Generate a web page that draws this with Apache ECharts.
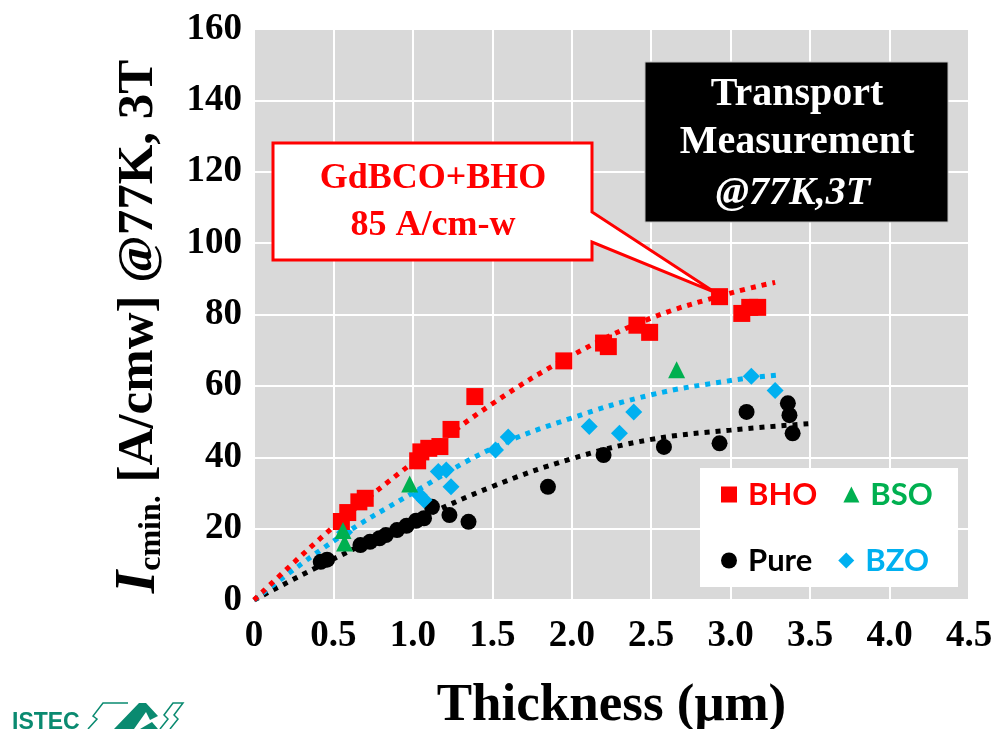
<!DOCTYPE html>
<html>
<head>
<meta charset="utf-8">
<title>Ic vs thickness</title>
<script src="https://cdn.jsdelivr.net/npm/echarts@6/dist/echarts.min.js"></script>
<style>
  html, body { margin: 0; padding: 0; background: #fff; }
  #chart { width: 996px; height: 729px; }
</style>
</head>
<body>
<div id="chart"></div>
<script>
// Measured tapes: [thickness (um), Ic min (A/cm-w)]
const bho = [
  [0.55, 22], [0.59, 24.5], [0.66, 27.5], [0.70, 28.5],
  [1.03, 39], [1.05, 41.5], [1.10, 42.5], [1.17, 43], [1.24, 47.8], [1.39, 57],
  [1.95, 67], [2.20, 72], [2.23, 71], [2.41, 77], [2.49, 75],
  [2.93, 85], [3.07, 80.3], [3.12, 82], [3.17, 82]
];
const bso = [[0.56, 19.5], [0.57, 16], [0.98, 32.5], [2.66, 64.5]];
const pure = [
  [0.42, 10.7], [0.46, 11.3], [0.67, 15.4], [0.73, 16.3], [0.79, 17.3], [0.83, 18.2],
  [0.90, 19.6], [0.96, 20.8], [1.02, 22.2], [1.07, 22.9], [1.12, 26.1], [1.23, 23.8],
  [1.35, 21.9], [1.85, 31.7], [2.20, 40.6], [2.58, 42.9], [2.93, 43.9],
  [3.10, 52.7], [3.36, 55.1], [3.37, 51.8], [3.39, 46.7]
];
const bzo = [
  [0.57, 19], [1.04, 29.4], [1.07, 28], [1.16, 36], [1.21, 36.4], [1.24, 31.7],
  [1.52, 42], [1.60, 45.7], [2.11, 48.6], [2.30, 46.7], [2.39, 52.7],
  [3.13, 62.7], [3.28, 58.7]
];

// Trend curves traced along each dataset
const bhoTrend = [[0, 0], [0.5, 20.5], [1.0, 38.5], [1.5, 55], [2.0, 68.5], [2.5, 79], [3.0, 86], [3.28, 89]];
const bzoTrend = [[0, 0], [0.5, 16.5], [1.0, 30], [1.5, 42.5], [2.0, 51], [2.5, 57.5], [3.0, 61.5], [3.29, 63]];
const pureTrend = [[0, 0], [0.5, 11.5], [1.0, 22], [1.5, 31.8], [2.0, 39.6], [2.5, 45], [3.0, 47.6], [3.52, 49.5]];

const xTickLabels = ['0', '0.5', '1.0', '1.5', '2.0', '2.5', '3.0', '3.5', '4.0', '4.5'];
const yTickLabels = ['0', '20', '40', '60', '80', '100', '120', '140', '160'];

const RED = '#FF0000', GREEN = '#00B050', BLUE = '#00B0F0', BLACK = '#000000', TEAL = '#0A8A70';
const SERIF = '"Liberation Serif", "Times New Roman", serif';
const SANS = 'Lato, "Open Sans", sans-serif';

const chart = echarts.init(document.getElementById('chart'), null, { renderer: 'canvas' });

function trend(data, color) {
  return {
    type: 'line', data: data, smooth: 0.4, showSymbol: false, silent: true, z: 1,
    lineStyle: { color: color, width: 5, type: [5, 6] }
  };
}
function points(name, data, symbol, size, color, z) {
  return {
    name: name, type: 'scatter', data: data, symbol: symbol, symbolSize: size, z: z,
    itemStyle: { color: color, opacity: 1 }
  };
}

const legendBase = {
  itemWidth: 16, itemHeight: 16, itemGap: 26, orient: 'horizontal', z: 6,
  textStyle: { fontFamily: SANS, fontWeight: 'bold', fontSize: 31, padding: [0, 0, 0, 6] },
  selectedMode: false
};

chart.setOption({
  backgroundColor: '#ffffff',
  animation: false,
  grid: {
    left: 254, right: 27, top: 29, bottom: 129,
    outerBoundsMode: 'none', containLabel: false,
    show: true, backgroundColor: '#D9D9D9', borderWidth: 0
  },
  xAxis: {
    type: 'value', min: 0, max: 4.5, interval: 0.5,
    axisLine: { show: false }, axisTick: { show: false },
    splitLine: { show: true, lineStyle: { color: '#ffffff', width: 2 } },
    axisLabel: {
      fontFamily: SERIF, fontWeight: 'bold', fontSize: 37, color: BLACK, margin: 18,
      formatter: v => xTickLabels[Math.round(v / 0.5)]
    },
    name: 'Thickness (\u03bcm)', nameLocation: 'middle', nameGap: 80,
    nameTextStyle: { fontFamily: SERIF, fontWeight: 'bold', fontSize: 53, color: BLACK }
  },
  yAxis: {
    type: 'value', min: 0, max: 160, interval: 20,
    axisLine: { show: false }, axisTick: { show: false },
    splitLine: { show: true, lineStyle: { color: '#ffffff', width: 2 } },
    axisLabel: {
      fontFamily: SERIF, fontWeight: 'bold', fontSize: 37, color: BLACK, margin: 12,
      formatter: v => yTickLabels[Math.round(v / 20)]
    },
    name: '{i|I}{sub|cmin.}{n| [A/cmw] @77K, 3T}', nameLocation: 'middle', nameGap: 86,
    nameTextStyle: {
      color: BLACK,
      padding: [0, 24, 0, 0],
      rich: {
        i: { fontFamily: SERIF, fontWeight: 'bold', fontStyle: 'italic', fontSize: 58, color: BLACK },
        sub: { fontFamily: SERIF, fontWeight: 'bold', fontSize: 32, color: BLACK, verticalAlign: 'bottom', padding: [20, 0, 0, 0] },
        n: { fontFamily: SERIF, fontWeight: 'bold', fontSize: 51, color: BLACK }
      }
    }
  },
  legend: [
    Object.assign({}, legendBase, {
      left: 716, top: 474,
      data: [{ name: 'BHO', textStyle: { color: RED } }, { name: 'BSO', textStyle: { color: GREEN } }]
    }),
    Object.assign({}, legendBase, {
      left: 716, top: 540,
      data: [{ name: 'Pure', textStyle: { color: BLACK } }, { name: 'BZO', textStyle: { color: BLUE } }]
    })
  ],
  series: [
    trend(pureTrend, BLACK),
    trend(bzoTrend, BLUE),
    trend(bhoTrend, RED),
    points('Pure', pure, 'circle', 16, BLACK, 3),
    points('BZO', bzo, 'diamond', 17, BLUE, 3),
    points('BHO', bho, 'rect', 17, RED, 4),
    points('BSO', bso, 'triangle', 17, GREEN, 5)
  ]
});

// Overlays: callout for the best tape, measurement box, legend panel, logo
const tip = chart.convertToPixel({ gridIndex: 0 }, bho[15]);
chart.setOption({
  graphic: [
    {
      type: 'rect', z: 5, shape: { x: 700, y: 468, width: 258, height: 119 },
      style: { fill: '#ffffff' }
    },
    {
      type: 'polygon', z: 10,
      shape: { points: [[273, 143], [592, 143], [592, 212], [tip[0] - 4, tip[1] - 4], [592, 242], [592, 260], [273, 260]] },
      style: { fill: '#ffffff', stroke: RED, lineWidth: 3, lineJoin: 'miter' }
    },
    {
      type: 'text', z: 11, x: 433, y: 202,
      style: {
        text: 'GdBCO+BHO\n85 A/cm-w', fill: RED, align: 'center', verticalAlign: 'middle',
        font: 'bold 36px ' + SERIF, lineHeight: 47
      }
    },
    {
      type: 'rect', z: 10, shape: { x: 645, y: 62, width: 303, height: 160 },
      style: { fill: '#000000', stroke: '#bfbfbf', lineWidth: 1 }
    },
    {
      type: 'text', z: 11, x: 797, y: 95,
      style: { text: 'Transport', fill: '#ffffff', align: 'center', verticalAlign: 'middle', font: 'bold 40px ' + SERIF }
    },
    {
      type: 'text', z: 11, x: 797, y: 143,
      style: { text: 'Measurement', fill: '#ffffff', align: 'center', verticalAlign: 'middle', font: 'bold 40px ' + SERIF }
    },
    {
      type: 'text', z: 11, x: 793, y: 194,
      style: { text: '@77K,3T', fill: '#ffffff', align: 'center', verticalAlign: 'middle', font: 'italic bold 40px ' + SERIF }
    },
    {
      type: 'text', z: 11, x: 12, y: 734,
      style: { text: 'ISTEC', fill: TEAL, align: 'left', verticalAlign: 'bottom', font: 'bold 23px "Liberation Sans Narrow", "Liberation Sans", sans-serif' }
    },
    {
      type: 'polyline', z: 11,
      shape: { points: [[88, 729], [97, 719], [93, 716], [103, 703], [128, 703]] },
      style: { stroke: TEAL, lineWidth: 1.5, fill: null }
    },
    {
      type: 'polygon', z: 11,
      shape: { points: [[114, 729], [139, 703], [146, 703], [158, 716], [150, 720], [146, 712], [134, 729]] },
      style: { fill: TEAL }
    },
    {
      type: 'polygon', z: 11,
      shape: { points: [[140, 729], [152, 722], [158, 729]] },
      style: { fill: TEAL }
    },
    {
      type: 'polyline', z: 11,
      shape: { points: [[160, 729], [168, 719], [164, 715], [173, 703], [183, 703], [174, 715], [178, 719], [170, 729]] },
      style: { stroke: TEAL, lineWidth: 1.5, fill: null }
    }
  ]
});
</script>
</body>
</html>
